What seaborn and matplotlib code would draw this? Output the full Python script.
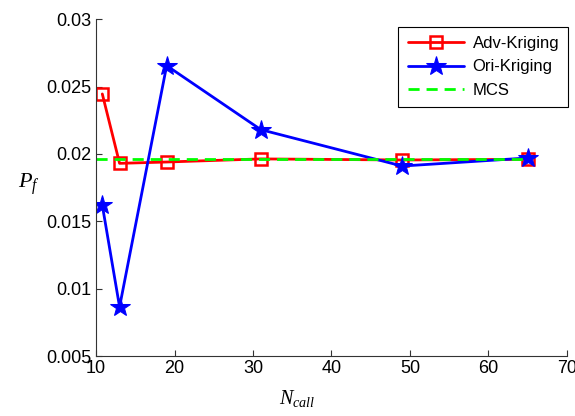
import numpy as np
import pandas as pd
import matplotlib
matplotlib.use("Agg")
import matplotlib.pyplot as plt
import seaborn as sns

n_call = [10.8, 13, 19, 31, 49, 65]
adv_kriging = [0.02445, 0.0193, 0.0194, 0.01963, 0.01955, 0.0196]
ori_kriging = [0.0162, 0.00865, 0.02655, 0.0218, 0.0191, 0.0197]
mcs_x = [10, 65]
mcs_y = [0.0196, 0.0196]
xticks = [10, 20, 30, 40, 50, 60, 70]
yticks = [0.005, 0.01, 0.015, 0.02, 0.025, 0.03]
ytick_labels = ["0.005", "0.01", "0.015", "0.02", "0.025", "0.03"]

sns.set_style("ticks")
plt.rcParams['font.family'] = ['Liberation Sans', 'DejaVu Sans']
plt.rcParams['mathtext.fontset'] = 'custom'
plt.rcParams['mathtext.it'] = 'Liberation Serif:italic'
plt.rcParams['mathtext.rm'] = 'Liberation Serif'
plt.rcParams['text.color'] = 'black'
plt.rcParams['axes.labelcolor'] = 'black'
plt.rcParams['xtick.color'] = '#333333'
plt.rcParams['ytick.color'] = '#333333'
plt.rcParams['xtick.labelcolor'] = 'black'
plt.rcParams['ytick.labelcolor'] = 'black'

fig = plt.figure(figsize=(5.75, 4.16), dpi=100)
ax = fig.add_axes([0.167, 0.144, 0.819, 0.810])

df_adv = pd.DataFrame({"x": n_call, "y": adv_kriging})
df_ori = pd.DataFrame({"x": n_call, "y": ori_kriging})
df_mcs = pd.DataFrame({"x": mcs_x, "y": mcs_y})

sns.lineplot(data=df_adv, x="x", y="y", ax=ax, color="#ff0000", lw=2,
             marker="s", markersize=9, markerfacecolor="none",
             markeredgecolor="#ff0000", markeredgewidth=1.8, label="Adv-Kriging")
sns.lineplot(data=df_ori, x="x", y="y", ax=ax, color="#0000ff", lw=2,
             marker="*", markersize=15, markerfacecolor="#0000ff",
             markeredgecolor="#0000ff", label="Ori-Kriging")
sns.lineplot(data=df_mcs, x="x", y="y", ax=ax, color="#00ff00", lw=2,
             linestyle="--", label="MCS")
ax.lines[-1].set_dashes((4, 2.5))

ax.set_xlim(10, 70)
ax.set_ylim(0.005, 0.03)
ax.set_xticks(xticks)
ax.set_yticks(yticks)
ax.set_yticklabels(ytick_labels)
ax.tick_params(direction="in", labelsize=13, length=4, width=0.8, pad=3)
for s in ["top", "right"]:
    ax.spines[s].set_visible(False)
for s in ["left", "bottom"]:
    ax.spines[s].set_linewidth(0.8)
    ax.spines[s].set_color("#333333")

ax.set_xlabel(r"$N_{call}$", fontsize=14.5, labelpad=5)
ax.xaxis.set_label_coords(0.427, -0.095, transform=ax.transAxes)
ax.xaxis.label.set_va("top")
ax.set_ylabel(r"$P_f$", fontsize=16, rotation=0, va="center", ha="center")
ax.yaxis.set_label_coords(-0.143, 0.51, transform=ax.transAxes)

leg = ax.legend(loc="upper right", fontsize=12, frameon=True, fancybox=False,
                edgecolor="black", borderpad=0.55, handlelength=3.4,
                handletextpad=0.5, labelspacing=0.5, borderaxespad=0,
                bbox_to_anchor=(1.003, 0.977))
leg.get_frame().set_linewidth(0.8)
leg.get_frame().set_alpha(1)

fig.savefig("out.png", dpi=100)
